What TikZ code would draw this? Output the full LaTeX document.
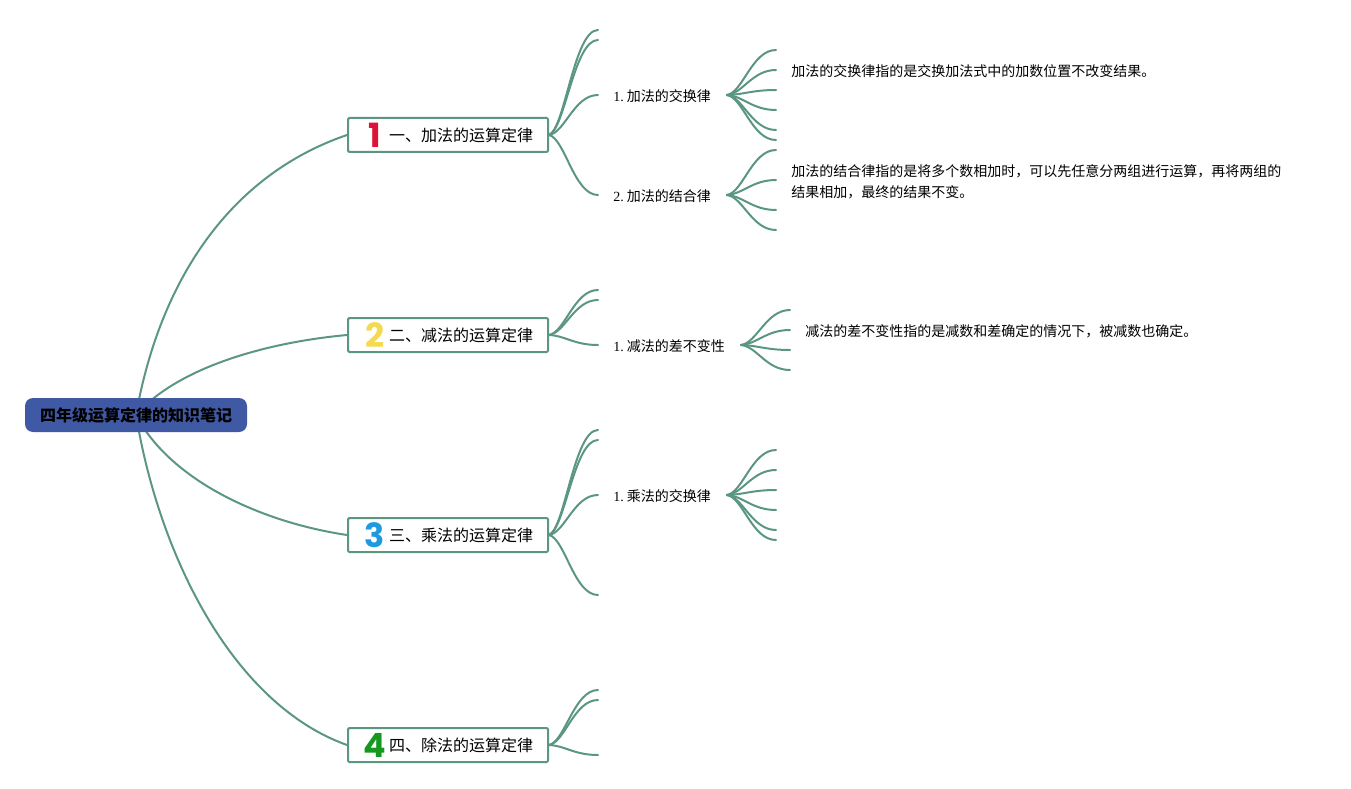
\documentclass[tikz,border=0pt]{standalone}
\usepackage{fontspec}
\setmainfont{Noto Sans CJK SC}
\newfontfamily\latinf{Liberation Serif}
\newfontfamily\digitf{Poppins}
\usetikzlibrary{backgrounds}
\definecolor{linkc}{HTML}{5B9682}
\definecolor{rootc}{HTML}{4059A4}
\definecolor{cred}{HTML}{DC1437}
\definecolor{cyellow}{HTML}{F5D94E}
\definecolor{cblue}{HTML}{1E9BE0}
\definecolor{cgreen}{HTML}{14981E}
\newcommand{\topictext}[3]{\makebox[127.5pt][r]{\makebox[20.5pt][c]{\smash{\raisebox{-4.9pt}{\digitf\bfseries\fontsize{25}{25}\selectfont\textcolor{#1}{#2}}}}\hspace{0.6pt}#3}}
\newcommand{\fanlinks}[5]{%
  \foreach \yy in {#5}{\coordinate (#3\yy) at (#4,\yy);
    \draw[link] (#1) .. controls +(16,{(\yy-#2)*0.06}) and +(-24,0) .. (#3\yy);}}
\tikzset{
  x=0.75pt,y=-0.75pt,
  rootbox/.style={fill=rootc,rounded corners=6pt,minimum width=166.5pt,minimum height=25.5pt,inner sep=0pt,font=\bfseries\fontsize{12}{14}\selectfont,text=black},
  topicbox/.style={draw=linkc,line width=1.5pt,fill=white,rounded corners=1pt,minimum width=150pt,minimum height=25.5pt,inner sep=0pt,font=\fontsize{12}{14}\selectfont,text=black},
  sublabel/.style={anchor=west,inner sep=0pt,font=\fontsize{10.5}{14}\selectfont,text=black},
  desc/.style={anchor=west,inner sep=0pt,align=left,font=\fontsize{10.5}{15.75}\selectfont,text=black},
  link/.style={draw=linkc,line width=1.5pt,line cap=round},
}
\begin{document}
\begin{tikzpicture}
\useasboundingbox (0,0) rectangle (1351,788);
\node[rootbox] (root) at (136,415) {\raisebox{-0.6pt}{四年级运算定律的知识笔记}};
\node[topicbox] (t1) at (448,135) {\topictext{cred}{1}{一、加法的运算定律}};
\node[topicbox] (t2) at (448,335) {\topictext{cyellow}{2}{二、减法的运算定律}};
\node[topicbox] (t3) at (448,535) {\topictext{cblue}{3}{三、乘法的运算定律}};
\node[topicbox] (t4) at (448,745) {\topictext{cgreen}{4}{四、除法的运算定律}};
\node[sublabel] (a1) at (613,96) {{\latinf 1.}\hspace{2.4pt}加法的交换律};
\node[sublabel] (a2) at (613,196) {{\latinf 2.}\hspace{2.4pt}加法的结合律};
\node[sublabel] (b1) at (613,346) {{\latinf 1.}\hspace{2.4pt}减法的差不变性};
\node[sublabel] (c1) at (613,496) {{\latinf 1.}\hspace{2.4pt}乘法的交换律};
\node[desc] (da1) at (791,71) {加法的交换律指的是交换加法式中的加数位置不改变结果。};
\node[desc] (da2) at (791,181.5) {加法的结合律指的是将多个数相加时，可以先任意分两组进行运算，再将两组的\\结果相加，最终的结果不变。};
\node[desc] (db1) at (805,331) {减法的差不变性指的是减数和差确定的情况下，被减数也确定。};
\coordinate (sa1) at (727,95);
\coordinate (sa2) at (727,195);
\coordinate (sb1) at (741,345);
\coordinate (sc1) at (727,495);
\begin{scope}[on background layer]
\draw[link] (root.center) .. controls (160,280) and (230,175) .. (t1.west);
\draw[link] (root.center) .. controls (175,370) and (260,343) .. (t2.west);
\draw[link] (root.center) .. controls (170,480) and (260,522) .. (t3.west);
\draw[link] (root.center) .. controls (160,560) and (235,705) .. (t4.west);
\fanlinks{t1.east}{135}{ea}{598}{30,40,95,195}
\fanlinks{t2.east}{335}{eb}{598}{290,300,345}
\fanlinks{t3.east}{535}{ec}{598}{430,440,495,595}
\fanlinks{t4.east}{745}{ed}{598}{690,700,755}
\fanlinks{sa1}{95}{fa}{776}{50,70,90,110,130,140}
\fanlinks{sa2}{195}{fb}{776}{150,180,210,230}
\fanlinks{sb1}{345}{fc}{790}{310,330,350,370}
\fanlinks{sc1}{495}{fd}{776}{450,470,490,510,530,540}
\end{scope}
\end{tikzpicture}
\end{document}
